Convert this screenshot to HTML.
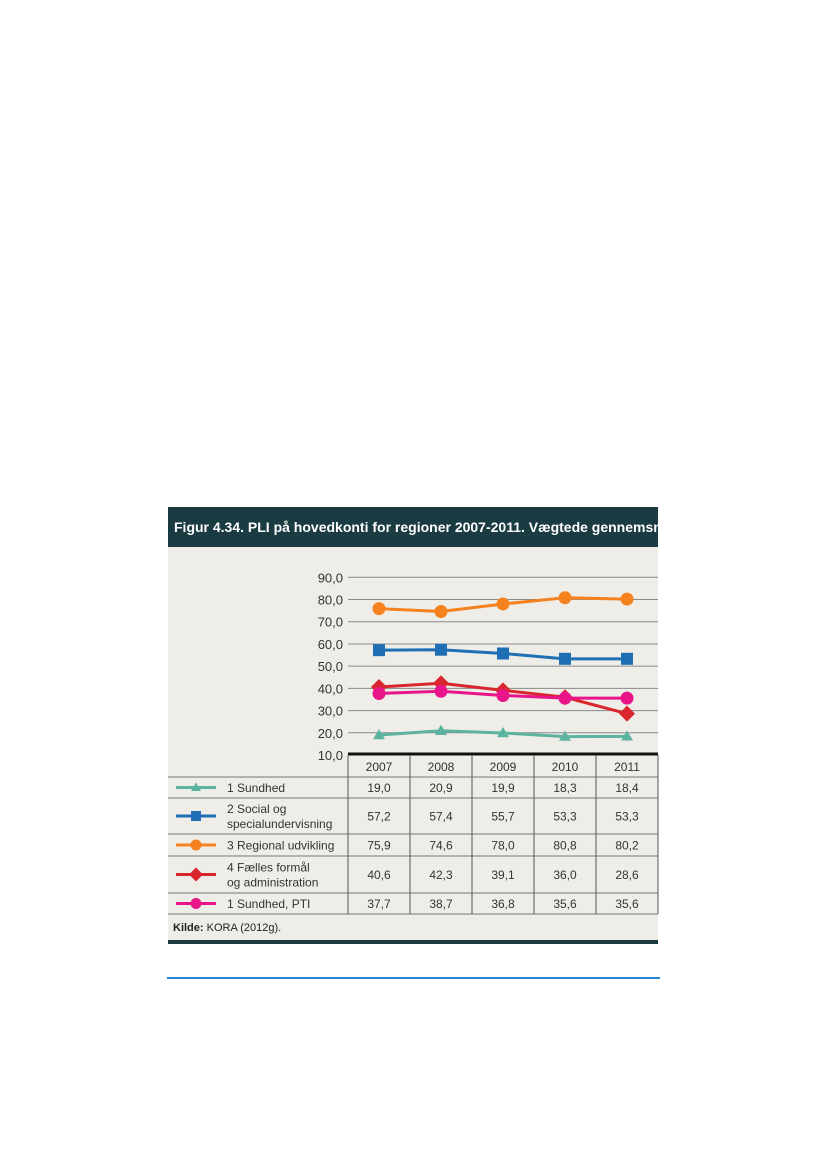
<!DOCTYPE html>
<html><head><meta charset="utf-8"><style>
html,body{margin:0;padding:0;background:#fff;}
svg{display:block;font-family:"Liberation Sans",sans-serif;}
</style></head><body>
<svg id="chart" width="827" height="1169" viewBox="0 0 827 1169" xmlns="http://www.w3.org/2000/svg">
<rect x="168" y="507" width="490" height="437" fill="#eeede8"/>
<rect x="168" y="507" width="490" height="40" fill="#1b3b42"/>
<text x="174" y="532" fill="#fff" font-size="14" font-weight="bold">Figur 4.34. PLI på hovedkonti for regioner 2007-2011. Vægtede gennemsnit</text>
<rect x="168" y="940" width="490" height="4" fill="#1b3b42"/>
<line x1="167" y1="978" x2="660" y2="978" stroke="#2a86d0" stroke-width="2"/>
<g id="grid"></g>
<g id="lines"></g>
<g id="table"></g>
<text x="173" y="931" font-size="11" fill="#222"><tspan font-weight="bold">Kilde:</tspan>  KORA (2012g).</text>
</svg>
<script>
const years = ["2007","2008","2009","2010","2011"];
const seriesNames = ["1 Sundhed","2 Social og|specialundervisning","3 Regional udvikling","4 Fælles formål|og administration","1 Sundhed, PTI"];
const sundhed = [19.0,20.9,19.9,18.3,18.4];
const social = [57.2,57.4,55.7,53.3,53.3];
const regional = [75.9,74.6,78.0,80.8,80.2];
const faelles = [40.6,42.3,39.1,36.0,28.6];
const pti = [37.7,38.7,36.8,35.6,35.6];
const yTicks = [10,20,30,40,50,60,70,80,90];
const seriesData = [sundhed,social,regional,faelles,pti];
const colors = ["#5bb3a0","#1f6fb5","#f6821f","#d9262e","#e8168a"];
const markers = ["tri","sq","circ","dia","circ"];
const NS="http://www.w3.org/2000/svg";
const x0=348,x1=658,yTop=577.3,yBot=755;
const colW=(x1-x0)/years.length;
const xs=i=>x0+colW*(i+0.5);
const ys=v=>yBot-(v-10)/80*(yBot-yTop);
function mk(tag,attrs,parent){const e=document.createElementNS(NS,tag);for(const k in attrs)e.setAttribute(k,attrs[k]);parent.appendChild(e);return e;}
const grid=document.getElementById('grid');
yTicks.forEach(t=>{
  if(t>10){const l=mk('line',{x1:x0,x2:x1,y1:ys(t),y2:ys(t),stroke:'#8a8a8a','stroke-width':1},grid);
  
  }
  const tx=mk('text',{x:343,y:ys(t)+5,'text-anchor':'end','font-size':13,fill:'#333'},grid);
  tx.textContent=t.toFixed(1).replace('.',',');
  
  
});
function marker(type,cx,cy,c,s,p){
  let e;
  if(type==='sq')e=mk('rect',{x:cx-s,y:cy-s,width:2*s,height:2*s,fill:c},p);
  else if(type==='circ')e=mk('circle',{cx:cx,cy:cy,r:s+0.5,fill:c},p);
  else if(type==='dia')e=mk('polygon',{points:`${cx},${cy-s-2} ${cx+s+2},${cy} ${cx},${cy+s+2} ${cx-s-2},${cy}`,fill:c},p);
  else e=mk('polygon',{points:`${cx},${cy-s} ${cx+s},${cy+s*0.7} ${cx-s},${cy+s*0.7}`,fill:c},p);
  return e;
}
const lg=document.getElementById('lines');
seriesData.forEach((arr,si)=>{
  const pl=mk('polyline',{points:arr.map((v,i)=>xs(i)+','+ys(v)).join(' '),fill:'none',stroke:colors[si],'stroke-width':3},lg);
  
  
  arr.forEach((v,i)=>{
    const m=marker(markers[si],xs(i),ys(v),colors[si],6,lg);
    
    
  });
});
const tb=document.getElementById('table');
const ax=mk('line',{x1:x0,x2:x1,y1:754,y2:754,stroke:'#111','stroke-width':3},tb);


const rowB=[755,777,798,834,856,893,914];
for(let r=1;r<rowB.length;r++){
  const l=mk('line',{x1:168,x2:x1,y1:rowB[r],y2:rowB[r],stroke:'#777','stroke-width':1},tb);
  
  
}
for(let c=0;c<=years.length;c++){
  const l=mk('line',{x1:x0+colW*c,x2:x0+colW*c,y1:755,y2:914,stroke:'#555','stroke-width':1},tb);
  
  
}
years.forEach((y,i)=>{
  const t=mk('text',{x:xs(i),y:771,'text-anchor':'middle','font-size':12,fill:'#333'},tb);
  t.textContent=y;
  
  
});
seriesData.forEach((arr,si)=>{
  const top=rowB[si+1],bot=rowB[si+2],mid=(top+bot)/2;
  const ll=mk('line',{x1:176,x2:216,y1:mid,y2:mid,stroke:colors[si],'stroke-width':3},tb);
  
  
  const lm=marker(markers[si],196,mid,colors[si],5,tb);
  
  
  const parts=seriesNames[si].split('|');
  const t=mk('text',{x:227,y:parts.length>1?mid-3:mid+4.5,'font-size':12,fill:'#333'},tb);
  
  
  parts.forEach((p,k)=>{const s=mk('tspan',{x:227,dy:k?15:0},t);s.textContent=p;});
  arr.forEach((v,i)=>{
    const c=mk('text',{x:xs(i),y:mid+4.5,'text-anchor':'middle','font-size':12,fill:'#333'},tb);
    c.textContent=v.toFixed(1).replace('.',',');
    
    
  });
});
</script>
</body></html>
